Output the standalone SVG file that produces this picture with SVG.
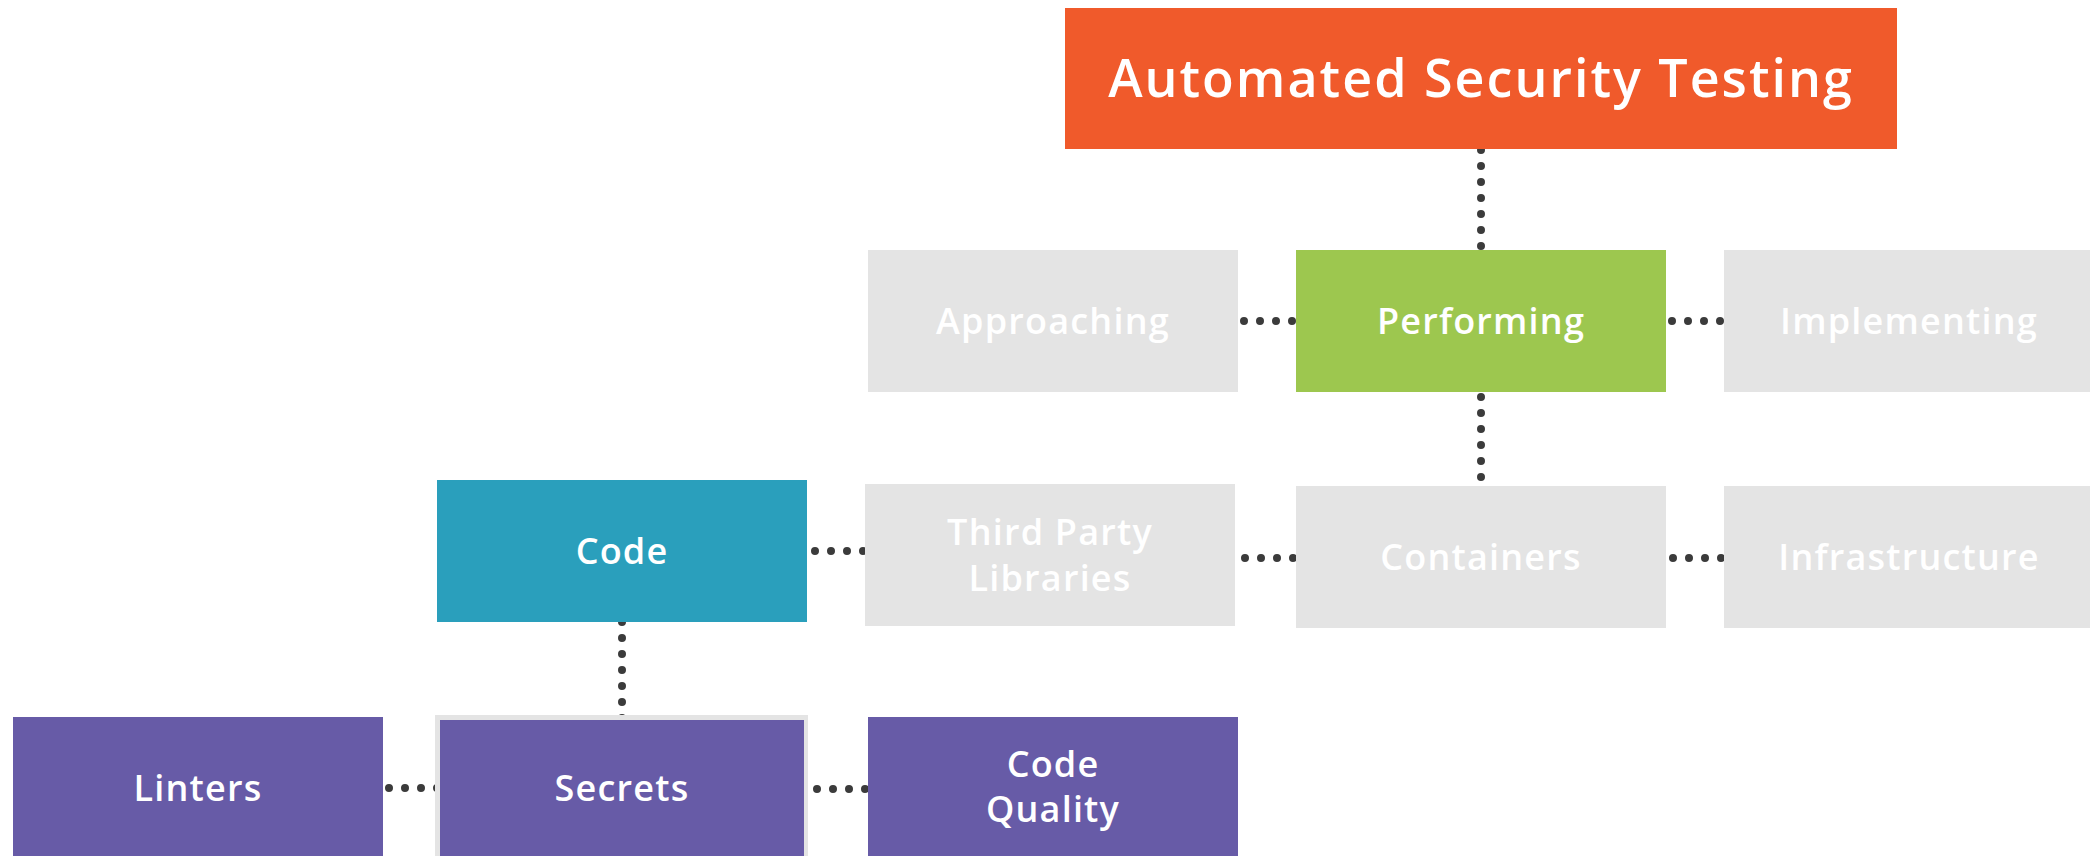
<svg xmlns="http://www.w3.org/2000/svg" width="2090" height="856" viewBox="0 0 2090 856">
<style>
.lbl{font-family:"Open Sans","Liberation Sans",sans-serif;font-weight:600;fill:#fff;text-anchor:middle;font-size:36px;letter-spacing:1.2px}
.title{font-size:52px;letter-spacing:2px}
.dots{fill:none;stroke:#3b3b3b;stroke-width:8;stroke-linecap:round;stroke-dasharray:0 16}
.grey{fill:#e4e4e4}
.purple{fill:#675ba7}
</style>
<rect width="2090" height="856" fill="#fff"/>
<g id="connectors">
<path class="dots" d="M1481 150 V246.5"/>
<path class="dots" d="M1481 397 V477.5"/>
<path class="dots" d="M1244 321 H1292.5"/>
<path class="dots" d="M1672 321 H1720.5"/>
<path class="dots" d="M1245 558 H1293.5"/>
<path class="dots" d="M1673 558 H1721.5"/>
<path class="dots" d="M815 551 H863.5"/>
<path class="dots" d="M622 622 V718.5"/>
<path class="dots" d="M389 788 H437.5"/>
<path class="dots" d="M817 789 H865.5"/>
</g>
<g id="node-title">
<rect x="1065" y="8" width="832" height="141" fill="#f05a2b"/>
<text class="lbl title" x="1481" y="97">Automated Security Testing</text>
</g>
<g id="node-approaching">
<rect class="grey" x="868" y="250" width="370" height="142"/>
<text class="lbl" x="1053" y="334">Approaching</text>
</g>
<g id="node-performing">
<rect x="1296" y="250" width="370" height="142" fill="#9dc74f"/>
<text class="lbl" x="1481" y="334">Performing</text>
</g>
<g id="node-implementing">
<rect class="grey" x="1724" y="250" width="370" height="142"/>
<text class="lbl" x="1909" y="334">Implementing</text>
</g>
<g id="node-code">
<rect x="437" y="480" width="370" height="142" fill="#2a9fbc"/>
<text class="lbl" x="622" y="564">Code</text>
</g>
<g id="node-thirdparty">
<rect class="grey" x="865" y="484" width="370" height="142"/>
<text class="lbl" x="1050" y="545">Third Party</text>
<text class="lbl" x="1050" y="591">Libraries</text>
</g>
<g id="node-containers">
<rect class="grey" x="1296" y="486" width="370" height="142"/>
<text class="lbl" x="1481" y="570">Containers</text>
</g>
<g id="node-infrastructure">
<rect class="grey" x="1724" y="486" width="370" height="142"/>
<text class="lbl" x="1909" y="570">Infrastructure</text>
</g>
<g id="node-linters">
<rect class="purple" x="13" y="717" width="370" height="142"/>
<text class="lbl" x="198" y="801">Linters</text>
</g>
<g id="node-secrets">
<rect x="435" y="715" width="373" height="145" fill="#e4e4e4"/>
<rect class="purple" x="440" y="720" width="364" height="140"/>
<text class="lbl" x="622" y="801">Secrets</text>
</g>
<g id="node-codequality">
<rect class="purple" x="868" y="717" width="370" height="142"/>
<text class="lbl" x="1053" y="777">Code</text>
<text class="lbl" x="1053" y="822">Quality</text>
</g>
</svg>
